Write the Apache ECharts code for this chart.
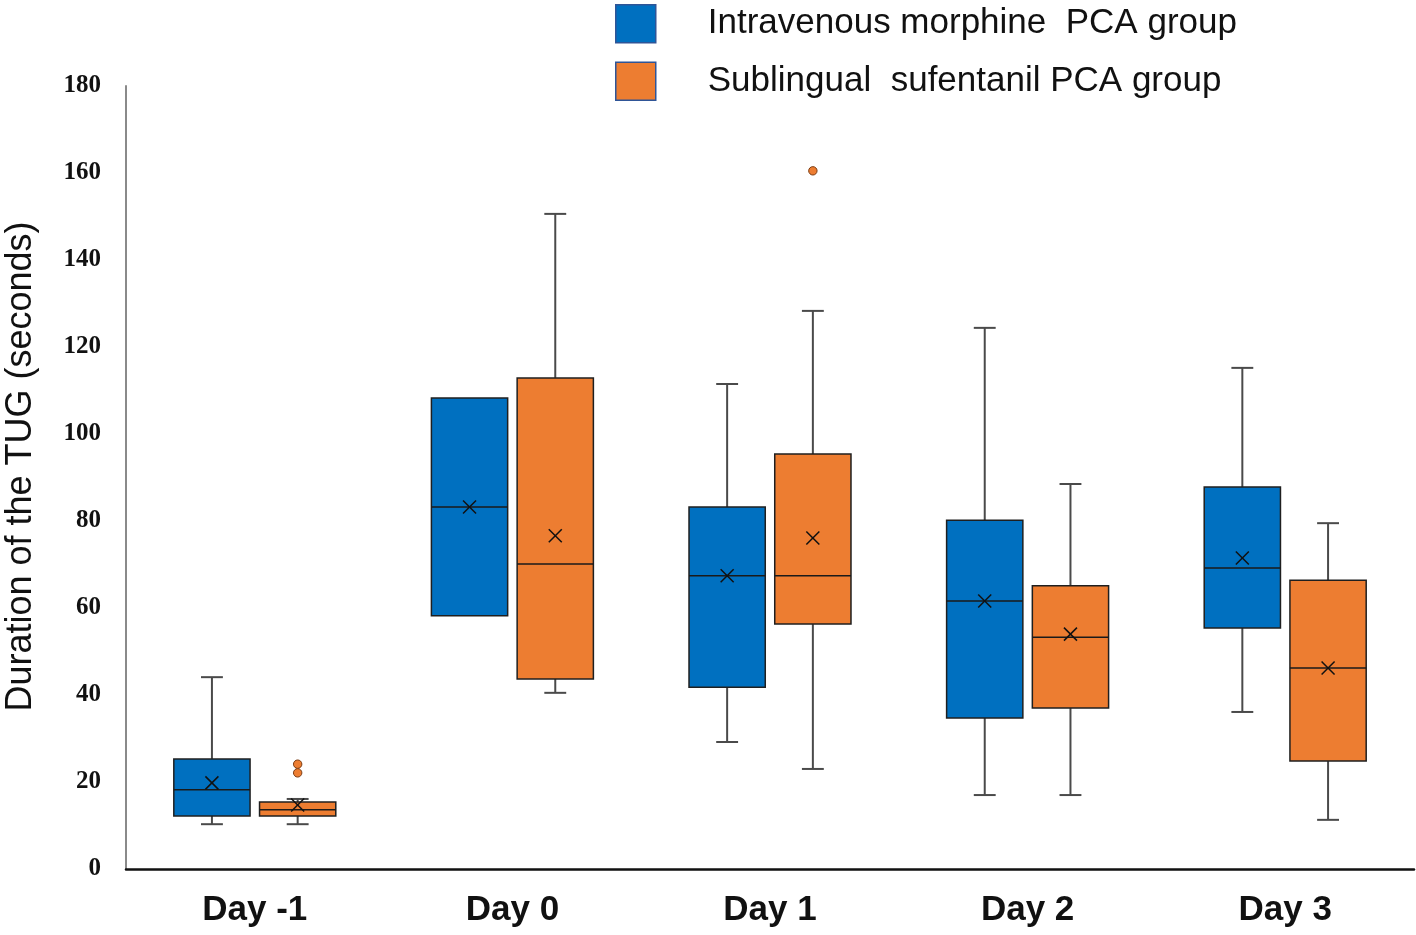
<!DOCTYPE html>
<html><head><meta charset="utf-8">
<script src="https://cdn.jsdelivr.net/npm/echarts@6/dist/echarts.min.js"></script>
<style>html,body{margin:0;padding:0;background:#fff}#c{width:1416px;height:935px}</style>
</head><body><div id="c"></div>
<script>
// ---- data ----
const categories = ['Day -1', 'Day 0', 'Day 1', 'Day 2', 'Day 3'];
const seriesNames = ['Intravenous morphine  PCA group', 'Sublingual  sufentanil PCA group'];
// [min, Q1, median, Q3, max] per day
const morphineStats = [
  [10.3, 12.2, 18.2, 25.3, 44.1],
  [58.2, 58.2, 83.2, 108.3, 108.3],
  [29.2, 41.8, 67.4, 83.2, 111.5],
  [17.0, 34.7, 61.6, 80.2, 124.4],
  [36.1, 55.4, 69.2, 87.8, 115.2]
];
const morphineMean = [19.8, 83.2, 67.4, 61.6, 71.5];
const sufentanilStats = [
  [10.3, 12.2, 13.6, 15.4, 16.1],
  [40.5, 43.7, 70.1, 112.9, 150.6],
  [23.0, 56.3, 67.4, 95.4, 128.3],
  [17.0, 37.0, 53.3, 65.1, 88.5],
  [11.3, 24.8, 46.2, 66.4, 79.5]
];
const sufentanilMean = [14.7, 76.6, 76.1, 54.0, 46.2];
// outliers: [day index, value]
const sufentanilOutliers = [[0, 24.1], [0, 22.1], [2, 160.5]];
const yTicks = [0, 20, 40, 60, 80, 100, 120, 140, 160, 180];

const BLUE = '#0070C0', ORANGE = '#ED7D31';

function buildData(stats, mean) {
  return stats.map((s, i) => [i, s[0], s[1], s[2], s[3], s[4], mean[i]]);
}

function boxRenderer(offsetFrac, color) {
  return function (params, api) {
    const cat = api.value(0);
    const band = api.size([1, 0])[0];
    const cx = api.coord([cat, 0])[0] + offsetFrac * band;
    const w = band * 0.296;
    const cap = band * 0.085;
    const y = v => api.coord([cat, v])[1];
    const yMin = y(api.value(1)), yQ1 = y(api.value(2)), yMed = y(api.value(3)),
          yQ3 = y(api.value(4)), yMax = y(api.value(5)), yMean = y(api.value(6));
    const wStyle = { stroke: '#4a4a4a', lineWidth: 2 };
    const children = [];
    if (Math.abs(yMax - yQ3) > 0.5) {
      children.push({ type: 'line', shape: { x1: cx, y1: yQ3, x2: cx, y2: yMax }, style: wStyle });
      children.push({ type: 'line', shape: { x1: cx - cap / 2, y1: yMax, x2: cx + cap / 2, y2: yMax }, style: wStyle });
    }
    if (Math.abs(yMin - yQ1) > 0.5) {
      children.push({ type: 'line', shape: { x1: cx, y1: yQ1, x2: cx, y2: yMin }, style: wStyle });
      children.push({ type: 'line', shape: { x1: cx - cap / 2, y1: yMin, x2: cx + cap / 2, y2: yMin }, style: wStyle });
    }
    children.push({ type: 'rect', shape: { x: cx - w / 2, y: yQ3, width: w, height: yQ1 - yQ3 },
      style: { fill: color, stroke: '#1f1f1f', lineWidth: 1.5 } });
    children.push({ type: 'line', shape: { x1: cx - w / 2, y1: yMed, x2: cx + w / 2, y2: yMed },
      style: { stroke: '#1a1a1a', lineWidth: 1.5 } });
    const m = 6.5;
    children.push({ type: 'line', shape: { x1: cx - m, y1: yMean - m, x2: cx + m, y2: yMean + m }, style: { stroke: '#111', lineWidth: 1.5 } });
    children.push({ type: 'line', shape: { x1: cx - m, y1: yMean + m, x2: cx + m, y2: yMean - m }, style: { stroke: '#111', lineWidth: 1.5 } });
    return { type: 'group', children };
  };
}

function outlierRenderer(offsetFrac, color) {
  return function (params, api) {
    const cat = api.value(0);
    const band = api.size([1, 0])[0];
    const p = api.coord([cat, api.value(1)]);
    return { type: 'circle', shape: { cx: p[0] + offsetFrac * band, cy: p[1], r: 4.2 },
      style: { fill: color, stroke: '#7a3a10', lineWidth: 1 } };
  };
}

const chart = echarts.init(document.getElementById('c'), null, { renderer: 'canvas' });
chart.setOption({
  animation: false,
  backgroundColor: '#fff',
  grid: { left: 126, right: 2, top: 86, bottom: 66, outerBoundsMode: 'none', containLabel: false },
  legend: {
    orient: 'vertical', left: 610, top: -1,
    itemWidth: 40, itemHeight: 38, itemGap: 18,
    data: [
      { name: seriesNames[0], icon: 'rect', itemStyle: { color: BLUE, borderColor: '#2F5597', borderWidth: 1.5 } },
      { name: seriesNames[1], icon: 'rect', itemStyle: { color: ORANGE, borderColor: '#2F5597', borderWidth: 1.5 } }
    ],
    textStyle: { fontFamily: 'Liberation Sans', fontSize: 35, lineHeight: 38, color: '#111', padding: [0, 0, 0, 47] }
  },
  xAxis: {
    type: 'category', data: categories,
    axisLine: { lineStyle: { color: '#111', width: 2.5 } },
    axisTick: { show: false },
    axisLabel: { fontFamily: 'Liberation Sans', fontWeight: 'bold', fontSize: 35, color: '#111', margin: 24 }
  },
  yAxis: {
    type: 'value', min: 0, max: 180, interval: 20,
    axisLine: { show: true, lineStyle: { color: '#8a8a8a', width: 2 } },
    axisTick: { show: false },
    splitLine: { show: false },
    axisLabel: { fontFamily: 'Liberation Serif', fontWeight: 'bold', fontSize: 25, color: '#111', margin: 25,
      formatter: v => yTicks.includes(v) ? String(v) : '' },
    name: 'Duration of the TUG (seconds)', nameLocation: 'middle', nameGap: 87, nameRotate: 90,
    nameTextStyle: { fontFamily: 'Liberation Sans', fontSize: 36, color: '#111', padding: [0, 0, 0, 22] }
  },
  series: [
    { name: seriesNames[0], type: 'custom', itemStyle: { color: BLUE },
      renderItem: boxRenderer(-0.1664, BLUE), encode: { x: 0, y: [1, 2, 3, 4, 5, 6] },
      data: buildData(morphineStats, morphineMean), z: 2 },
    { name: seriesNames[1], type: 'custom', itemStyle: { color: ORANGE },
      renderItem: boxRenderer(0.1664, ORANGE), encode: { x: 0, y: [1, 2, 3, 4, 5, 6] },
      data: buildData(sufentanilStats, sufentanilMean), z: 2 },
    { name: 'sufentanil outliers', type: 'custom',
      renderItem: outlierRenderer(0.1664, ORANGE), encode: { x: 0, y: 1 },
      data: sufentanilOutliers, z: 3 }
  ]
});
</script>
</body></html>
